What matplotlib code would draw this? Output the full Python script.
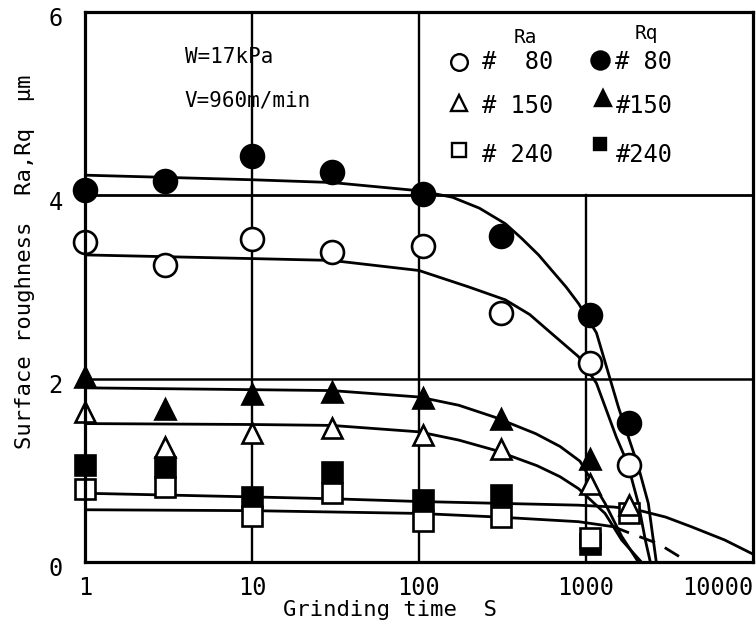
import numpy as np
import matplotlib
matplotlib.use("Agg")
import matplotlib.pyplot as plt
from matplotlib.transforms import offset_copy

plt.rcParams['font.family'] = ['DejaVu Sans Mono', 'DejaVu Sans']

# measured grinding times (s)
t_meas = [1, 3, 10, 30, 105, 310, 1050, 1800]

# measured roughness (um)
ra_80 = [3.49, 3.24, 3.52, 3.38, 3.45, 2.72, 2.17, 1.06]
rq_80 = [4.06, 4.16, 4.43, 4.26, 4.02, 3.56, 2.69, 1.52]
ra_150 = [1.64, 1.25, 1.41, 1.46, 1.39, 1.23, 0.85, 0.62]
rq_150 = [2.02, 1.67, 1.83, 1.86, 1.79, 1.56, 1.12, np.nan]
ra_240 = [0.80, 0.82, 0.50, 0.75, 0.45, 0.49, 0.26, 0.53]
rq_240 = [1.06, 1.04, 0.71, 0.98, 0.68, 0.73, 0.20, np.nan]

# fitted trend curves
rq80_fit_t = [1, 10, 30, 100, 158, 230, 329, 412, 520, 625, 760, 902, 1155, 1563, 2057, 2361, 2636]
rq80_fit_v = [4.22, 4.17, 4.14, 4.05, 3.98, 3.86, 3.69, 3.53, 3.35, 3.18, 3.00, 2.82, 2.50, 1.69, 1.04, 0.64, 0.0]
ra80_fit_t = [1, 10, 30, 100, 199, 329, 460, 625, 902, 1155, 1521, 1770, 2057, 2266, 2427]
ra80_fit_v = [3.35, 3.31, 3.29, 3.18, 3.00, 2.86, 2.70, 2.49, 2.24, 1.95, 1.36, 1.08, 0.64, 0.24, 0.0]
rq150_fit_t = [1, 10, 30, 100, 173, 284, 500, 700, 920, 1300, 1636, 2057]
rq150_fit_v = [1.90, 1.88, 1.87, 1.80, 1.71, 1.58, 1.40, 1.26, 1.10, 0.64, 0.28, 0.0]
ra150_fit_t = [1, 10, 30, 100, 173, 284, 510, 700, 902, 1300, 1636, 2145]
ra150_fit_v = [1.51, 1.50, 1.49, 1.42, 1.33, 1.22, 1.05, 0.93, 0.80, 0.53, 0.24, 0.0]
rq240_fit_t = [1, 10, 30, 100, 300, 900, 1460, 2010, 3000, 4270, 6770, 9770]
rq240_fit_v = [0.75, 0.71, 0.69, 0.66, 0.64, 0.62, 0.60, 0.57, 0.49, 0.385, 0.24, 0.095]
ra240_fit_t = [1, 10, 100, 300, 900, 1460, 1800, 2710, 4090]
ra240_fit_v = [0.57, 0.56, 0.53, 0.49, 0.44, 0.385, 0.32, 0.20, 0.0]

x_ticks = [1, 10, 100, 1000, 10000]
x_ticklabels = ['1', '10', '100', '1000', '10000']
y_ticks = [0, 2, 4, 6]
y_ticklabels = ['0', '2', '4', '6']

fig = plt.figure(figsize=(7.56, 6.26), dpi=100)
ax = fig.add_axes([85 / 756, 1 - 562 / 626, (753 - 85) / 756, (562 - 12) / 626])
ax.set_xscale('log')
ax.set_xlim(1, 10000)
ax.set_ylim(0, 6)

LW = 2.0
# frame grid
ax.plot([10, 10], [0, 6], color='k', lw=1.7, zorder=1)
ax.plot([100, 100], [0, 6], color='k', lw=1.7, zorder=1)
ax.plot([1000, 1000], [0, 4], color='k', lw=1.7, zorder=1)
ax.plot([1.15, 10000], [4, 4], color='k', lw=2.0, zorder=1)
ax.plot([1.12, 10000], [2, 2], color='k', lw=1.8, zorder=1)

# trend curves
for ft, fv in [(rq80_fit_t, rq80_fit_v), (ra80_fit_t, ra80_fit_v),
               (rq150_fit_t, rq150_fit_v), (ra150_fit_t, ra150_fit_v),
               (rq240_fit_t, rq240_fit_v)]:
    ax.plot(ft, fv, color='k', lw=LW, zorder=2, solid_joinstyle='round')
ax.plot(ra240_fit_t[:6], ra240_fit_v[:6], color='k', lw=LW, zorder=2)
ax.plot(ra240_fit_t[5:], ra240_fit_v[5:], color='k', lw=LW, zorder=2,
        dashes=(6, 4))

# measured points: filled (Rq) first, open (Ra) on top
mk = dict(linestyle='none', clip_on=False, markeredgecolor='k', markeredgewidth=1.9)
ax.plot(t_meas, rq_240, marker='s', ms=15, markerfacecolor='k', zorder=3, **mk)
ax.plot(t_meas, rq_150, marker='^', ms=14.5, markerfacecolor='k', zorder=3, **mk)
ax.plot(t_meas, rq_80, marker='o', ms=16.5, markerfacecolor='k', zorder=3, **mk)
ax.plot(t_meas, ra_240, marker='s', ms=15, markerfacecolor='white', zorder=4, **mk)
ax.plot(t_meas, ra_150, marker='^', ms=14.5, markerfacecolor='white', zorder=4, **mk)
ax.plot(t_meas, ra_80, marker='o', ms=16.5, markerfacecolor='white', zorder=4, **mk)

# legend block in the upper-right cell
lk = dict(linestyle='none', markeredgecolor='k', markeredgewidth=1.7, zorder=5)
leg_rows = [5.45, 5.01, 4.49]
ax.text(435, 5.72, 'Ra', fontsize=14, ha='center', va='center')
ax.text(2300, 5.77, 'Rq', fontsize=14, ha='center', va='center')
ax.plot([173], [leg_rows[0]], marker='o', ms=12, markerfacecolor='white', **lk)
ax.plot([173], [leg_rows[1]], marker='^', ms=11, markerfacecolor='white', **lk)
ax.plot([173], [leg_rows[2]], marker='s', ms=10, markerfacecolor='white', **lk)
ax.text(240, leg_rows[0], '#  80', fontsize=17, ha='left', va='center')
ax.text(240, leg_rows[1] - 0.03, '# 150', fontsize=17, ha='left', va='center')
ax.text(240, leg_rows[2] - 0.05, '# 240', fontsize=17, ha='left', va='center')
ax.plot([1221], [leg_rows[0] + 0.03], marker='o', ms=13, markerfacecolor='k', **lk)
ax.plot([1260], [leg_rows[1] + 0.05], marker='^', ms=11, markerfacecolor='k', **lk)
ax.plot([1221], [leg_rows[2] + 0.07], marker='s', ms=9, markerfacecolor='k', **lk)
ax.text(1500, leg_rows[0], '# 80', fontsize=17, ha='left', va='center')
ax.text(1500, leg_rows[1] - 0.03, '#150', fontsize=17, ha='left', va='center')
ax.text(1500, leg_rows[2] - 0.05, '#240', fontsize=17, ha='left', va='center')

# operating conditions
ax.text(3.95, 5.51, 'W=17kPa', fontsize=15, ha='left', va='center')
ax.text(3.95, 5.04, 'V=960m/min', fontsize=15, ha='left', va='center')

# axes styling
for s in ax.spines.values():
    s.set_linewidth(2.3)
    s.set_zorder(6)
ax.minorticks_off()
ax.set_xticks(x_ticks)
ax.set_xticklabels(x_ticklabels, fontsize=17)
ax.set_yticks(y_ticks)
ax.set_yticklabels(y_ticklabels, fontsize=17)
ax.tick_params(axis='both', length=0)
ax.tick_params(axis='x', pad=10)
ax.tick_params(axis='y', pad=16)
xl = ax.get_xticklabels()
xl[-1].set_horizontalalignment('right')
for lab in ax.get_yticklabels():
    lab.set_transform(offset_copy(lab.get_transform(), fig=fig, x=0, y=-5, units='dots'))

fig.text(25 / 756, 1 - 262 / 626, 'Surface roughness  Ra,Rq  μm', rotation=90,
         fontsize=16, ha='center', va='center')
fig.text(390 / 756, 1 - 610 / 626, 'Grinding time  S', fontsize=16,
         ha='center', va='center')

fig.savefig('out.png', dpi=100)
